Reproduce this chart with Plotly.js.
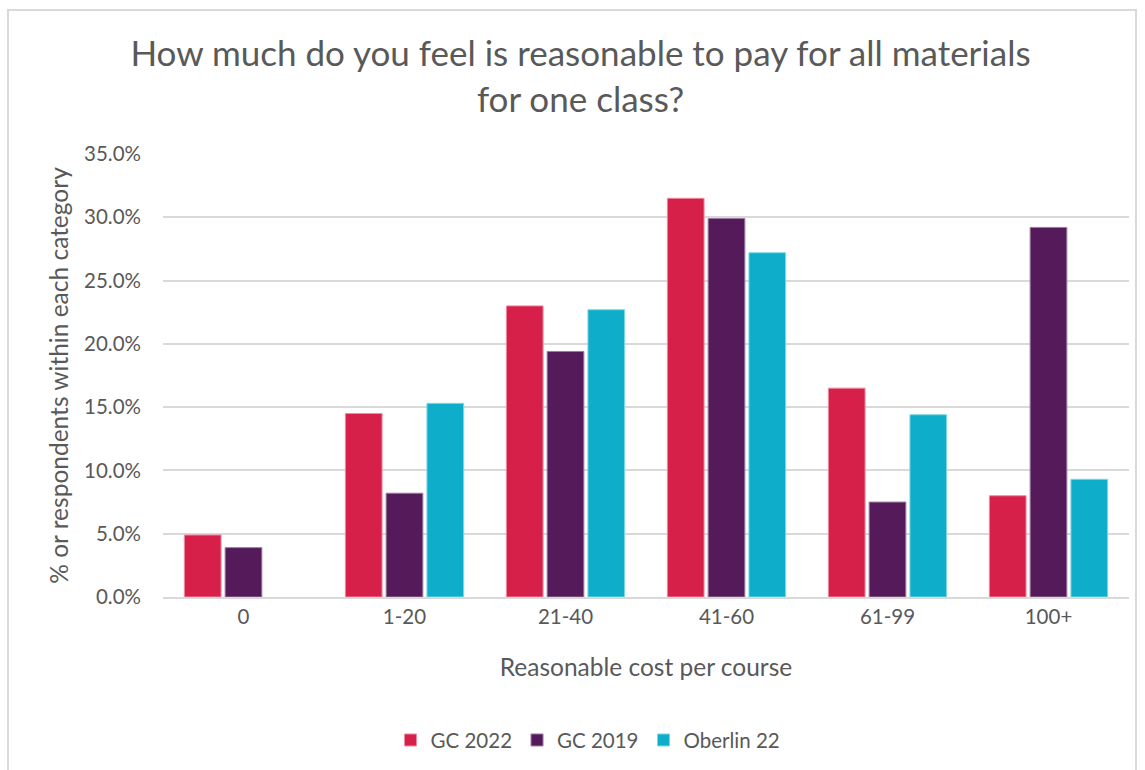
<!DOCTYPE html>
<html>
<head>
<meta charset="utf-8">
<script src="https://cdn.plot.ly/plotly-3.0.1.min.js"></script>
<style>
html,body{margin:0;padding:0;background:#fff;}
#chart{width:1145px;height:770px;position:relative;}
#frame{position:absolute;left:7px;top:9px;width:1130px;height:770px;border:2px solid #d9d9d9;box-sizing:border-box;pointer-events:none;}
</style>
</head>
<body>
<div style="position:relative;width:1145px;height:770px;overflow:hidden;">
<div id="chart"></div>
<div id="frame"></div>
</div>
<script>
var categories = ["0", "1-20", "21-40", "41-60", "61-99", "100+"];
var gc2022 = [0.049, 0.145, 0.230, 0.315, 0.165, 0.080];
var gc2019 = [0.039, 0.082, 0.194, 0.299, 0.075, 0.292];
var oberlin22 = [null, 0.153, 0.227, 0.272, 0.144, 0.093];
var seriesNames = ["GC 2022", "GC 2019", "Oberlin 22"];
var colors = ["#d6204a", "#541a59", "#0eaecb"];
var outlines = ["#f08aa0", "#9c7aa0", "#7fd6e6"];
var values = [gc2022, gc2019, oberlin22];

var font = "Lato, 'Open Sans', 'Liberation Sans', sans-serif";
var data = values.map(function(v, i){
  return {
    type: "bar",
    name: seriesNames[i],
    x: categories,
    y: v,
    marker: {color: colors[i], line: {color: outlines[i], width: 1}},
    hoverinfo: "x+y+name"
  };
});

var layout = {
  width: 1145,
  height: 770,
  paper_bgcolor: "#ffffff",
  plot_bgcolor: "#ffffff",
  font: {family: font, color: "#595959", size: 20.5},
  title: {
    text: "How much do you feel is reasonable to pay for all materials<br>for one class?",
    font: {family: font, size: 35, color: "#595959"},
    x: 0.507, xanchor: "center",
    y: 0.914, yanchor: "top"
  },
  margin: {l: 163, r: 16, t: 154, b: 173, autoexpand: false},
  barmode: "group",
  bargap: 0.24,
  bargroupgap: 0.1,
  xaxis: {
    type: "category",
    automargin: false,
    showgrid: false,
    showline: true,
    linecolor: "#d9d9d9",
    linewidth: 2,
    ticks: "",
    tickfont: {size: 20.5, color: "#595959"},
    ticklabelstandoff: 0,
    title: {text: "Reasonable cost per course", font: {size: 24.5, color: "#595959"}, standoff: 32}
  },
  yaxis: {
    range: [0, 0.35],
    dtick: 0.05,
    tickformat: ".1%",
    automargin: false,
    showgrid: true,
    gridcolor: "#d9d9d9",
    gridwidth: 2,
    zeroline: false,
    showline: false,
    ticks: "",
    ticklen: 0,
    ticklabelstandoff: 21,
    tickfont: {size: 20.5, color: "#595959"},
    title: {text: "% or respondents within each category", font: {size: 24.5, color: "#595959"}, standoff: 8}
  },
  legend: {
    orientation: "h",
    x: 0.44, xanchor: "center",
    y: -0.278, yanchor: "top",
    font: {size: 20.5, color: "#595959"},
    itemwidth: 30,
    traceorder: "normal"
  },
  showlegend: true
};

Plotly.newPlot("chart", data, layout, {displayModeBar: false, staticPlot: true});
</script>
</body>
</html>
